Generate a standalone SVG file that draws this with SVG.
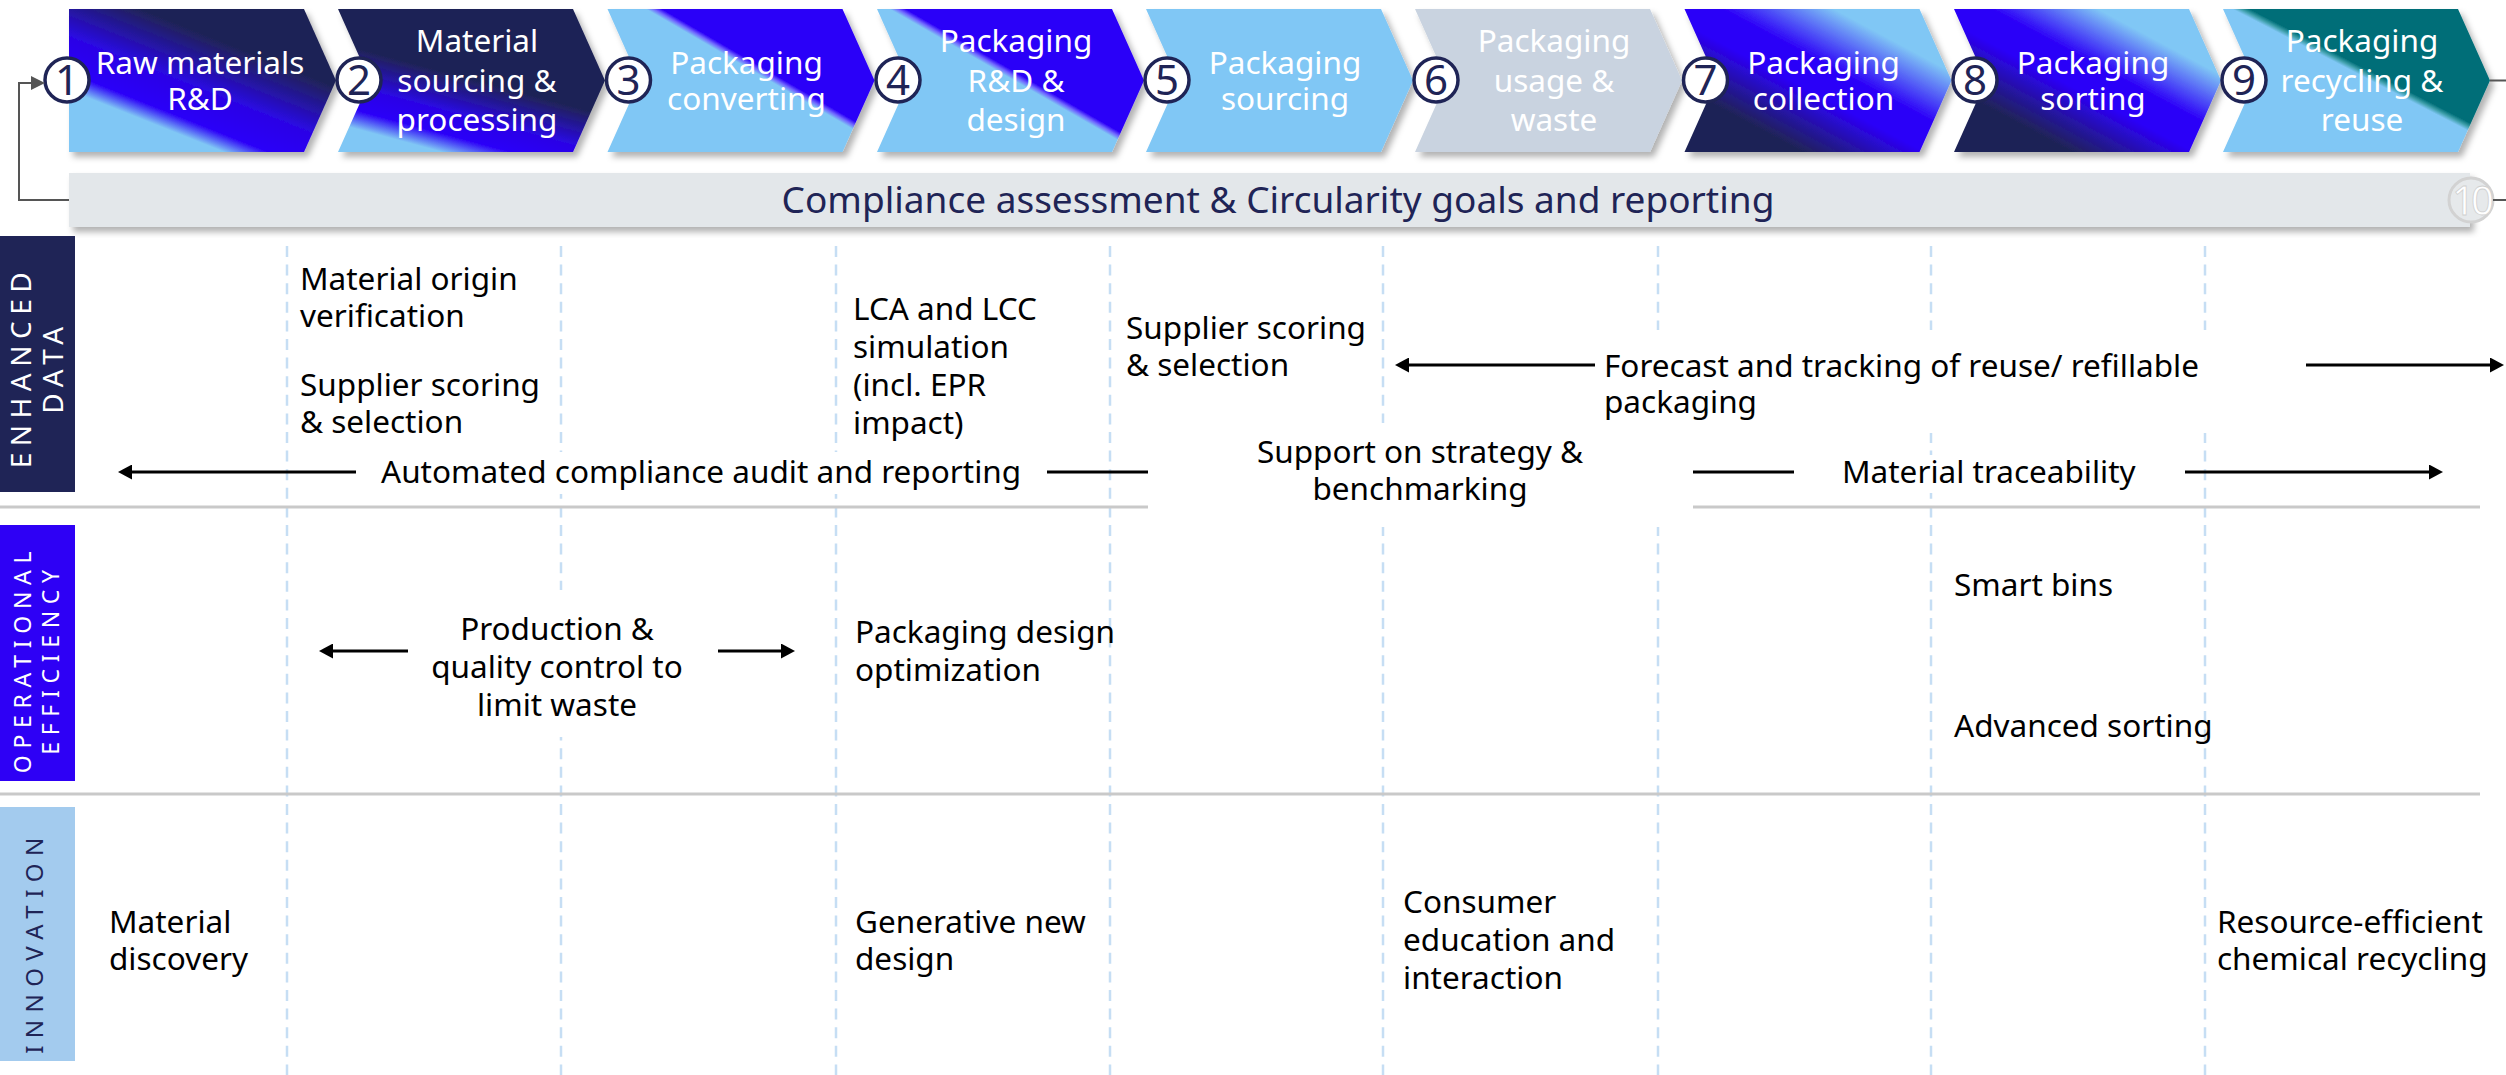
<svg xmlns="http://www.w3.org/2000/svg" width="2506" height="1075" viewBox="0 0 2506 1075">
<style>
text{font-family:"Noto Sans","Open Sans","DejaVu Sans",sans-serif}
.lbl{font-size:31.5px;fill:#000}
.chv{font-size:31.5px;fill:#fff;text-anchor:middle}
.num{font-size:42px;fill:#1F2456;text-anchor:middle}
.nc{fill:#fff;stroke:#1F2456;stroke-width:3.5}
.dash{stroke:#C6DEF4;stroke-width:2.5;stroke-dasharray:11 7.6;fill:none}
.sep{stroke:#C9C9C9;stroke-width:3;fill:none}
.arr{stroke:#000;stroke-width:3;fill:none}
.fb{stroke:#555;stroke-width:2;fill:none}
.row{fill:#fff;text-anchor:middle}
.mask{fill:#fff}
</style>
<defs>
<filter id="sh" x="-5%" y="-10%" width="115%" height="130%">
<feDropShadow dx="4" dy="5" stdDeviation="3" flood-color="#000" flood-opacity="0.3"/>
</filter>
<marker id="ah" markerUnits="userSpaceOnUse" markerWidth="14" markerHeight="15" viewBox="0 0 14 15" refX="8" refY="7.5" orient="auto-start-reverse">
<path d="M0,0 L14,7.5 L0,15 z" fill="#000"/>
</marker>
<marker id="ahg" markerUnits="userSpaceOnUse" markerWidth="14" markerHeight="14" viewBox="0 0 14 14" refX="8" refY="7" orient="auto">
<path d="M0,0 L14,7 L0,14 z" fill="#555"/>
</marker>
<linearGradient id="g1" gradientUnits="userSpaceOnUse" x1="150" y1="150" x2="205.5" y2="10.5">
<stop offset="0" stop-color="#80C7F5"/><stop offset="0.17" stop-color="#80C7F5"/><stop offset="0.28" stop-color="#2C00F8"/><stop offset="0.5" stop-color="#2A06E6"/><stop offset="0.85" stop-color="#1F2456"/><stop offset="1" stop-color="#1F2456"/>
</linearGradient>
<linearGradient id="g2" gradientUnits="userSpaceOnUse" x1="338" y1="152" x2="377" y2="7">
<stop offset="0" stop-color="#80C7F5"/><stop offset="0.18" stop-color="#80C7F5"/><stop offset="0.3" stop-color="#2C00F8"/><stop offset="0.45" stop-color="#2A06E6"/><stop offset="0.7" stop-color="#1F2456"/><stop offset="1" stop-color="#1F2456"/>
</linearGradient>
<linearGradient id="g3" gradientUnits="userSpaceOnUse" x1="745" y1="74.6" x2="755" y2="57.4">
<stop offset="0" stop-color="#80C7F5"/><stop offset="0.35" stop-color="#80C7F5"/><stop offset="0.55" stop-color="#7066FF"/><stop offset="0.75" stop-color="#2C00F8"/><stop offset="1" stop-color="#2C00F8"/>
</linearGradient>
<linearGradient id="g4" gradientUnits="userSpaceOnUse" x1="1002" y1="81.7" x2="1012" y2="64.3">
<stop offset="0" stop-color="#80C7F5"/><stop offset="0.35" stop-color="#80C7F5"/><stop offset="0.55" stop-color="#7066FF"/><stop offset="0.75" stop-color="#2C00F8"/><stop offset="1" stop-color="#2C00F8"/>
</linearGradient>
<linearGradient id="g7" x1="0" y1="1" x2="1" y2="0">
<stop offset="0" stop-color="#1F2456"/><stop offset="0.22" stop-color="#1F2456"/><stop offset="0.45" stop-color="#2C00F8"/><stop offset="0.57" stop-color="#2C00F8"/><stop offset="0.78" stop-color="#80C7F5"/><stop offset="1" stop-color="#80C7F5"/>
</linearGradient>
<linearGradient id="g8" x1="0" y1="1" x2="1" y2="0">
<stop offset="0" stop-color="#1F2456"/><stop offset="0.22" stop-color="#1F2456"/><stop offset="0.45" stop-color="#2C00F8"/><stop offset="0.57" stop-color="#2C00F8"/><stop offset="0.77" stop-color="#80C7F5"/><stop offset="1" stop-color="#80C7F5"/>
</linearGradient>
<linearGradient id="g9" gradientUnits="userSpaceOnUse" x1="2348.4" y1="76.9" x2="2357.6" y2="59.1">
<stop offset="0" stop-color="#80C7F5"/><stop offset="0.35" stop-color="#80C7F5"/><stop offset="0.55" stop-color="#3E9FAA"/><stop offset="0.75" stop-color="#006E78"/><stop offset="1" stop-color="#006E78"/>
</linearGradient>
</defs>

<rect width="2506" height="1075" fill="#fff"/>

<!-- grid -->
<g id="grid">
<line class="dash" x1="287" y1="246" x2="287" y2="1075"/>
<line class="dash" x1="561" y1="246" x2="561" y2="1075"/>
<line class="dash" x1="836" y1="246" x2="836" y2="1075"/>
<line class="dash" x1="1110" y1="246" x2="1110" y2="1075"/>
<line class="dash" x1="1383" y1="246" x2="1383" y2="1075"/>
<line class="dash" x1="1658" y1="246" x2="1658" y2="1075"/>
<line class="dash" x1="1931" y1="246" x2="1931" y2="1075"/>
<line class="dash" x1="2205" y1="246" x2="2205" y2="1075"/>
<line class="sep" x1="0" y1="507" x2="1148" y2="507"/>
<line class="sep" x1="1693" y1="507" x2="2480" y2="507"/>
<line class="sep" x1="0" y1="794" x2="2480" y2="794"/>
</g>

<!-- chevrons -->
<g id="step1"><polygon points="69,9 304,9 336,80.5 304,152 69,152" fill="url(#g1)" filter="url(#sh)"/>
<text class="chv"><tspan x="200" y="74">Raw materials</tspan><tspan x="200" y="110">R&amp;D</tspan></text></g>
<g id="step2"><polygon points="338,9 573,9 605,80.5 573,152 338,152 370,80.5" fill="url(#g2)" filter="url(#sh)"/>
<text class="chv"><tspan x="477" y="52">Material</tspan><tspan x="477" y="91.5">sourcing &amp;</tspan><tspan x="477" y="131">processing</tspan></text></g>
<g id="step3"><polygon points="607.5,9 842.5,9 874.5,80.5 842.5,152 607.5,152 639.5,80.5" fill="url(#g3)" filter="url(#sh)"/>
<text class="chv"><tspan x="746.5" y="74">Packaging</tspan><tspan x="746.5" y="110">converting</tspan></text></g>
<g id="step4"><polygon points="877,9 1112,9 1144,80.5 1112,152 877,152 909,80.5" fill="url(#g4)" filter="url(#sh)"/>
<text class="chv"><tspan x="1016" y="52">Packaging</tspan><tspan x="1016" y="91.5">R&amp;D &amp;</tspan><tspan x="1016" y="131">design</tspan></text></g>
<g id="step5"><polygon points="1146,9 1381,9 1413,80.5 1381,152 1146,152 1178,80.5" fill="#80C7F5" filter="url(#sh)"/>
<text class="chv"><tspan x="1285" y="74">Packaging</tspan><tspan x="1285" y="110">sourcing</tspan></text></g>
<g id="step6"><polygon points="1415,9 1650,9 1682,80.5 1650,152 1415,152 1447,80.5" fill="#C9D3E0" filter="url(#sh)"/>
<text class="chv"><tspan x="1554" y="52">Packaging</tspan><tspan x="1554" y="91.5">usage &amp;</tspan><tspan x="1554" y="131">waste</tspan></text></g>
<g id="step7"><polygon points="1684.5,9 1919.5,9 1951.5,80.5 1919.5,152 1684.5,152 1716.5,80.5" fill="url(#g7)" filter="url(#sh)"/>
<text class="chv"><tspan x="1823.5" y="74">Packaging</tspan><tspan x="1823.5" y="110">collection</tspan></text></g>
<g id="step8"><polygon points="1954,9 2189,9 2221,80.5 2189,152 1954,152 1986,80.5" fill="url(#g8)" filter="url(#sh)"/>
<text class="chv"><tspan x="2093" y="74">Packaging</tspan><tspan x="2093" y="110">sorting</tspan></text></g>
<g id="step9"><polygon points="2223,9 2458,9 2490,80.5 2458,152 2223,152 2255,80.5" fill="url(#g9)" filter="url(#sh)"/>
<text class="chv"><tspan x="2362" y="52">Packaging</tspan><tspan x="2362" y="91.5">recycling &amp;</tspan><tspan x="2362" y="131">reuse</tspan></text></g>

<!-- compliance bar -->
<g id="compliance">
<rect x="69" y="173" width="2401" height="54" fill="#E3E7EA" filter="url(#sh)"/>
<text x="1278" y="213" font-size="37" fill="#1F2456" text-anchor="middle">Compliance assessment &amp; Circularity goals and reporting</text>
</g>

<!-- number circles -->
<g id="numbers">
<circle class="nc" cx="67" cy="80" r="22"/><text class="num" x="67" y="95">1</text>
<circle class="nc" cx="359" cy="80" r="22"/><text class="num" x="359" y="95">2</text>
<circle class="nc" cx="628.5" cy="80" r="22"/><text class="num" x="628.5" y="95">3</text>
<circle class="nc" cx="898" cy="80" r="22"/><text class="num" x="898" y="95">4</text>
<circle class="nc" cx="1167" cy="80" r="22"/><text class="num" x="1167" y="95">5</text>
<circle class="nc" cx="1436" cy="80" r="22"/><text class="num" x="1436" y="95">6</text>
<circle class="nc" cx="1705.5" cy="80" r="22"/><text class="num" x="1705.5" y="95">7</text>
<circle class="nc" cx="1975" cy="80" r="22"/><text class="num" x="1975" y="95">8</text>
<circle class="nc" cx="2244" cy="80" r="22"/><text class="num" x="2244" y="95">9</text>
<circle cx="2471" cy="200" r="22" fill="#E6E9EB" stroke="#D2D2D2" stroke-width="3"/>
<text x="2471" y="215" font-size="40" fill="#fff" stroke="#D0D0D0" stroke-width="0.8" text-anchor="middle" letter-spacing="-4">10</text>
</g>

<!-- row labels -->
<g id="row-enhanced">
<rect x="0" y="236" width="75" height="256" fill="#1F2456"/>
<text class="row" font-size="28" letter-spacing="6.5" transform="translate(31,367) rotate(-90)">ENHANCED</text>
<text class="row" font-size="28" letter-spacing="6.5" transform="translate(63,367) rotate(-90)">DATA</text>
</g>
<g id="row-operational">
<rect x="0" y="525" width="75" height="256" fill="#2E00F5"/>
<text class="row" font-size="23" letter-spacing="6.7" transform="translate(31,659) rotate(-90)">OPERATIONAL</text>
<text class="row" font-size="23" letter-spacing="6.7" transform="translate(59,659) rotate(-90)">EFFICIENCY</text>
</g>
<g id="row-innovation">
<rect x="0" y="807" width="75" height="254" fill="#A3CBEE"/>
<text class="row" font-size="24" letter-spacing="7.5" style="fill:#1F2456" transform="translate(43,942) rotate(-90)">INNOVATION</text>
</g>

<!-- masks behind spanning labels -->
<rect class="mask" x="1148" y="423" width="545" height="104"/>
<rect class="mask" x="1600" y="330" width="615" height="103"/>
<rect class="mask" x="372" y="452" width="665" height="42"/>
<rect class="mask" x="1835" y="455" width="310" height="38"/>
<rect class="mask" x="425" y="590" width="268" height="147"/>

<!-- connectors -->
<g id="connectors">
<path class="fb" d="M69,200 H19 V83 H39" marker-end="url(#ahg)"/>
<line class="fb" x1="2490" y1="80.5" x2="2506" y2="80.5"/>
<line class="fb" x1="2493" y1="200" x2="2506" y2="200"/>
<line class="arr" x1="124" y1="472" x2="356" y2="472" marker-start="url(#ah)"/>
<line class="arr" x1="1047" y1="472" x2="1148" y2="472"/>
<line class="arr" x1="1401" y1="365" x2="1595" y2="365" marker-start="url(#ah)"/>
<line class="arr" x1="2306" y1="365" x2="2498" y2="365" marker-end="url(#ah)"/>
<line class="arr" x1="1693" y1="472" x2="1794" y2="472"/>
<line class="arr" x1="2185" y1="472" x2="2437" y2="472" marker-end="url(#ah)"/>
<line class="arr" x1="325" y1="651" x2="408" y2="651" marker-start="url(#ah)"/>
<line class="arr" x1="718" y1="651" x2="789" y2="651" marker-end="url(#ah)"/>
</g>

<!-- labels -->
<g id="lbl-origin"><text class="lbl"><tspan x="300" y="290">Material origin</tspan><tspan x="300" y="327">verification</tspan></text></g>
<g id="lbl-supplier1"><text class="lbl"><tspan x="300" y="396">Supplier scoring</tspan><tspan x="300" y="433">&amp; selection</tspan></text></g>
<g id="lbl-lca"><text class="lbl"><tspan x="853" y="320">LCA and LCC</tspan><tspan x="853" y="358">simulation</tspan><tspan x="853" y="396">(incl. EPR</tspan><tspan x="853" y="434">impact)</tspan></text></g>
<g id="lbl-supplier2"><text class="lbl"><tspan x="1126" y="339">Supplier scoring</tspan><tspan x="1126" y="376">&amp; selection</tspan></text></g>
<g id="lbl-forecast"><text class="lbl"><tspan x="1604" y="377">Forecast and tracking of reuse/ refillable</tspan><tspan x="1604" y="413">packaging</tspan></text></g>
<g id="lbl-audit"><text class="lbl" x="381" y="483">Automated compliance audit and reporting</text></g>
<g id="lbl-support"><text class="lbl" text-anchor="middle"><tspan x="1420" y="463">Support on strategy &amp;</tspan><tspan x="1420" y="500">benchmarking</tspan></text></g>
<g id="lbl-trace"><text class="lbl" x="1842" y="483">Material traceability</text></g>
<g id="lbl-production"><text class="lbl" text-anchor="middle"><tspan x="557" y="640">Production &amp;</tspan><tspan x="557" y="678">quality control to</tspan><tspan x="557" y="716">limit waste</tspan></text></g>
<g id="lbl-pdesign"><text class="lbl"><tspan x="855" y="643">Packaging design</tspan><tspan x="855" y="681">optimization</tspan></text></g>
<g id="lbl-bins"><text class="lbl" x="1954" y="596">Smart bins</text></g>
<g id="lbl-sorting"><text class="lbl" x="1954" y="737">Advanced sorting</text></g>
<g id="lbl-discovery"><text class="lbl"><tspan x="109" y="933">Material</tspan><tspan x="109" y="970">discovery</tspan></text></g>
<g id="lbl-generative"><text class="lbl"><tspan x="855" y="933">Generative new</tspan><tspan x="855" y="970">design</tspan></text></g>
<g id="lbl-consumer"><text class="lbl"><tspan x="1403" y="913">Consumer</tspan><tspan x="1403" y="951">education and</tspan><tspan x="1403" y="989">interaction</tspan></text></g>
<g id="lbl-chemical"><text class="lbl"><tspan x="2217" y="933">Resource-efficient</tspan><tspan x="2217" y="970">chemical recycling</tspan></text></g>
</svg>
